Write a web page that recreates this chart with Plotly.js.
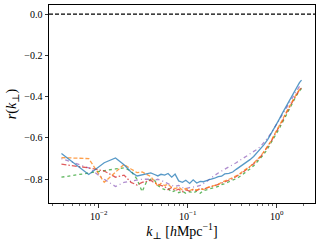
<!DOCTYPE html>
<html><head><meta charset="utf-8">
<script src="https://cdn.plot.ly/plotly-3.0.1.min.js"></script>
<style>html,body{margin:0;padding:0;background:#fff}#c{width:321px;height:242px}</style>
</head><body><div id="c"></div>
<script>
const kPerp = [0.0038,0.0077,0.0115,0.0154,0.0192,0.023,0.0269,0.0307,0.0346,0.0384,0.0423,0.0461,
  0.05,0.055,0.06,0.066,0.072,0.079,0.087,0.095,0.105,0.115,0.126,0.138,0.15,0.165,0.18,0.2,0.22,0.24,0.26,
  0.29,0.32,0.35,0.38,0.42,0.46,0.5,0.55,0.6,0.66,0.72,0.79,0.87,0.95,1.05,1.15,1.26,1.38,1.5,1.65,1.8,1.9];

const rBlue = [-0.675,-0.777,-0.72,-0.697,-0.73,-0.765,-0.784,-0.779,-0.772,-0.769,-0.777,-0.784,
  -0.776,-0.78,-0.772,-0.79,-0.775,-0.808,-0.815,-0.805,-0.82,-0.803,-0.818,-0.81,-0.812,-0.805,-0.80,-0.795,-0.787,-0.785,-0.774,
  -0.772,-0.765,-0.752,-0.742,-0.728,-0.718,-0.705,-0.69,-0.672,-0.655,-0.632,-0.608,-0.578,-0.548,-0.515,-0.482,-0.45,-0.418,-0.39,-0.356,-0.332,-0.32];

const rOrange = [-0.695,-0.70,-0.815,-0.765,-0.728,-0.75,-0.768,-0.765,-0.775,-0.787,-0.81,-0.835,
  -0.82,-0.83,-0.825,-0.84,-0.845,-0.838,-0.852,-0.845,-0.855,-0.848,-0.852,-0.845,-0.85,-0.84,-0.836,-0.83,-0.825,-0.815,-0.81,
  -0.80,-0.792,-0.785,-0.775,-0.76,-0.75,-0.738,-0.722,-0.705,-0.688,-0.665,-0.64,-0.612,-0.58,-0.548,-0.515,-0.48,-0.448,-0.42,-0.39,-0.365,-0.355];

const rGreen = [-0.79,-0.77,-0.755,-0.75,-0.745,-0.76,-0.80,-0.86,-0.81,-0.80,-0.805,-0.83,
  -0.842,-0.85,-0.845,-0.862,-0.855,-0.865,-0.858,-0.868,-0.86,-0.866,-0.858,-0.868,-0.855,-0.85,-0.845,-0.84,-0.835,-0.826,-0.822,
  -0.812,-0.805,-0.797,-0.788,-0.775,-0.763,-0.75,-0.735,-0.718,-0.70,-0.678,-0.652,-0.624,-0.592,-0.56,-0.527,-0.49,-0.458,-0.43,-0.398,-0.372,-0.36];

const rRed = [-0.727,-0.745,-0.76,-0.79,-0.78,-0.815,-0.828,-0.815,-0.81,-0.805,-0.818,-0.826,
  -0.83,-0.835,-0.85,-0.84,-0.855,-0.848,-0.86,-0.852,-0.857,-0.85,-0.855,-0.845,-0.848,-0.842,-0.835,-0.832,-0.825,-0.818,-0.812,
  -0.805,-0.797,-0.787,-0.778,-0.765,-0.752,-0.74,-0.725,-0.708,-0.69,-0.668,-0.642,-0.615,-0.583,-0.552,-0.52,-0.485,-0.452,-0.424,-0.393,-0.368,-0.358];

const rPurple = [-0.70,-0.745,-0.80,-0.835,-0.815,-0.808,-0.805,-0.80,-0.80,-0.80,-0.805,-0.80,
  -0.805,-0.815,-0.82,-0.83,-0.835,-0.83,-0.84,-0.845,-0.84,-0.838,-0.835,-0.83,-0.82,-0.81,-0.795,-0.78,-0.77,-0.76,-0.752,
  -0.742,-0.73,-0.72,-0.71,-0.698,-0.69,-0.68,-0.668,-0.655,-0.64,-0.622,-0.60,-0.575,-0.548,-0.518,-0.49,-0.46,-0.43,-0.405,-0.375,-0.35,-0.34];

const xTickVals = [0.01, 0.1, 1];
const xTickText = ['10<sup>−2</sup>', '10<sup>−1</sup>', '10<sup>0</sup>'];
const yTickVals = [-0.8, -0.6, -0.4, -0.2, 0.0];

const minorVals = [];
for (let e = -3; e <= 0; e++) for (let m = 2; m <= 9; m++) minorVals.push(m * Math.pow(10, e));

function tr(y, color, dash, w) {
  return {x: kPerp, y: y, type: 'scatter', mode: 'lines',
    line: {color: color, dash: dash, width: w || 1.3}, opacity: 0.75, hoverinfo: 'skip'};
}
const data = [
  tr(rPurple, '#9467bd', '1px,3px,4px,3px', 1.3),
  tr(rGreen, '#2ca02c', 'dot', 1.3),
  tr(rRed, '#d62728', '5px,2px,1.5px,2px', 1.3),
  tr(rOrange, '#ff7f0e', '4px,2px', 1.3),
  tr(rBlue, '#1f77b4', 'solid', 1.3)
];

const font = {family: 'Liberation Serif, DejaVu Serif, serif', color: '#000'};
const layout = {
  width: 321, height: 242,
  margin: {l: 49, r: 6, t: 5, b: 39},
  paper_bgcolor: '#fff', plot_bgcolor: '#fff',
  showlegend: false,
  font: Object.assign({size: 10}, font),
  xaxis: {
    type: 'log', range: [-2.56, 0.43],
    tickvals: xTickVals, ticktext: xTickText,
    ticks: 'outside', ticklen: 3.5, tickwidth: 0.8, tickcolor: '#000',
    minor: {tickvals: minorVals, ticks: 'outside', ticklen: 2, tickwidth: 0.6, tickcolor: '#000', showgrid: false},
    showgrid: false, zeroline: false,
    showline: true, mirror: true, linecolor: '#000', linewidth: 1,
    tickfont: Object.assign({size: 10}, font),
    title: {text: '<i>k</i><sub>⊥</sub> [<i>h</i>Mpc<sup>−1</sup>]', font: Object.assign({size: 14}, font), standoff: 4}
  },
  yaxis: {
    range: [-0.915, 0.044],
    tickvals: yTickVals, tickformat: '.1f',
    ticks: 'outside', ticklen: 3.5, tickwidth: 0.8, tickcolor: '#000',
    showgrid: false, zeroline: false,
    showline: true, mirror: true, linecolor: '#000', linewidth: 1,
    tickfont: Object.assign({size: 10}, font),
    title: {text: '<i>r</i>(<i>k</i><sub>⊥</sub>)', font: Object.assign({size: 14}, font), standoff: 4}
  },
  shapes: [{type: 'line', xref: 'paper', x0: 0, x1: 1, yref: 'y', y0: 0, y1: 0,
    line: {color: '#000', width: 1.2, dash: '4px,2px'}}]
};
Plotly.newPlot('c', data, layout, {staticPlot: true, displayModeBar: false});
</script></body></html>
